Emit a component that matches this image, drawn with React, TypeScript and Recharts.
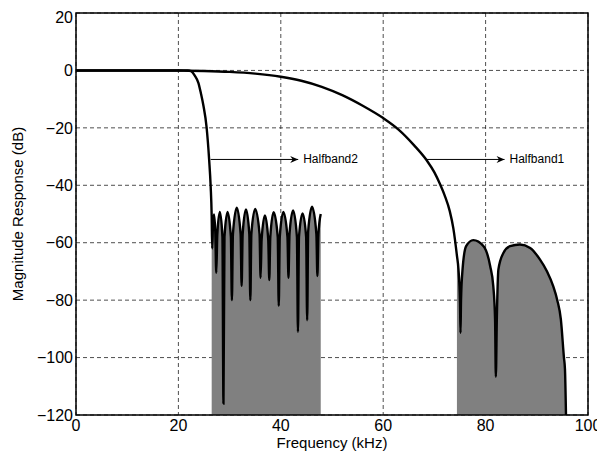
import { ComposedChart, Line, Area, XAxis, YAxis, CartesianGrid, ReferenceArea, ReferenceLine, ReferenceDot } from "recharts"

// frequency (kHz), magnitude (dB)
const hb1Passband: [number, number][] = [
  [0, 0], [10, 0], [18, 0], [20, -0.05], [22, -0.1], [25, -0.2], [30, -0.5], [35, -1.1],
  [40, -2.2], [44, -3.6], [48, -5.7], [52, -8.6], [56, -12.3], [60, -16.6], [63, -20.6],
  [66, -26], [68.5, -31.3], [70, -35.5], [71, -39.2], [72, -43.5], [73, -49], [73.7, -55],
]

const hb1Stopband: [number, number][] = [
  [74.4, -64.5], [74.7, -69.3], [75.0, -81], [75.1, -91.4], [75.2, -80], [75.5, -69.3],
  [76.2, -61.2], [77.6, -59.1], [79.6, -61.2], [80.9, -68.2], [81.5, -75.1], [81.85, -86.7],
  [82.0, -106.7], [82.2, -86], [82.5, -69.3], [83.5, -63.5], [84.8, -61.2], [86.7, -60.6],
  [88.7, -61.8], [90.6, -65.8], [92, -70], [93.2, -75.1], [94.0, -80], [94.7, -86.7],
  [95.3, -100], [95.5, -104], [95.7, -120],
]

const hb2Passband: [number, number][] = [
  [0, 0], [10, 0], [20, 0], [21.8, 0], [22.5, -0.3], [23.2, -1.8], [23.9, -4.3], [24.4, -8],
  [24.9, -12.4], [25.5, -19.7], [26.0, -31], [26.3, -40.3],
]

const hb2Stopband: [number, number][] = [
  [26.5, -50.7], [26.6, -62],
  [26.75, -54], [26.95, -50.2], [27.2, -56], [27.4, -70.5],
  [27.6, -57], [28.1, -49.3], [28.6, -58], [28.8, -116],
  [29.0, -58], [29.6, -49.3], [30.25, -58], [30.45, -80],
  [30.65, -57], [31.4, -47.8], [32.15, -57], [32.35, -75],
  [32.55, -57], [33.2, -48.4], [33.85, -57], [34.05, -80],
  [34.25, -57], [35.0, -48.2], [35.85, -57], [36.05, -72.2],
  [36.25, -59], [36.9, -50.5], [37.55, -59], [37.75, -73],
  [37.95, -58], [38.6, -49.4], [39.4, -58], [39.6, -82],
  [39.8, -58], [40.5, -49.3], [41.3, -58], [41.5, -72.2],
  [41.7, -57], [42.4, -48.8], [43.15, -58], [43.35, -91],
  [43.55, -58], [44.25, -49.8], [44.95, -58], [45.15, -87],
  [45.35, -56], [46.1, -47.5], [46.95, -57], [47.15, -71.6],
  [47.35, -57], [47.8, -50],
]

const xTicks = [0, 20, 40, 60, 80, 100]
const yTicks = [-120, -100, -80, -60, -40, -20, 0, 20]

// annotation arrows: [start kHz, end kHz, level dB, label]
const arrows: [number, number, number, string][] = [
  [26.3, 43.4, -31, "Halfband2"],
  [68.2, 83.7, -31, "Halfband1"],
]

const toPts = (arr: [number, number][]) => arr.map(([f, db]) => ({ f, db }))

const FONT = "'Liberation Sans', Arial, Helvetica, sans-serif"

const minus = (v: number) => String(v).replace("-", "\u2212")

export default function App() {
  const hb1 = toPts([...hb1Passband, ...hb1Stopband])
  const hb2 = toPts([...hb2Passband, ...hb2Stopband])

  return (
    <ComposedChart
      width={597}
      height={445}
      margin={{ top: 5, right: 17, bottom: 0, left: 0 }}
      style={{ fontFamily: FONT }}
    >
      <CartesianGrid stroke="#222" strokeDasharray="4 3" strokeWidth={0.8} />
      <XAxis
        type="number"
        dataKey="f"
        domain={[0, 100]}
        ticks={xTicks}
        height={38}
        tickLine={false}
        axisLine={false}
        tickSize={0}
        tickMargin={5}
        tick={{ fill: "#000", fontSize: 16 }}
        label={{ value: "Frequency (kHz)", position: "insideBottom", offset: 5, fill: "#000", fontSize: 15 }}
      />
      <YAxis
        type="number"
        domain={[-120, 20]}
        ticks={yTicks}
        width={68}
        tickLine={false}
        axisLine={false}
        tickSize={0}
        tickMargin={3}
        tickFormatter={minus}
        tick={{ fill: "#000", fontSize: 16 }}
        label={{ value: "Magnitude Response (dB)", angle: -90, position: "insideLeft", offset: 10, fill: "#000", fontSize: 15, style: { textAnchor: "middle" } }}
      />

      <Area data={toPts(hb2Stopband)} dataKey="db" type="monotone" baseValue={-120} fill="#808080" fillOpacity={1} stroke="none" isAnimationActive={false} />
      <Area data={toPts(hb1Stopband)} dataKey="db" type="monotone" baseValue={-120} fill="#808080" fillOpacity={1} stroke="none" isAnimationActive={false} />

      <Line data={hb1} dataKey="db" type="monotone" stroke="#000" strokeWidth={2.4} dot={false} isAnimationActive={false} />
      <Line data={hb2} dataKey="db" type="monotone" stroke="#000" strokeWidth={2.4} dot={false} isAnimationActive={false} />

      {arrows.map(([x1, x2, y, name]) => (
        <ReferenceLine key={`l-${name}`} segment={[{ x: x1, y }, { x: x2, y }]} stroke="#000" strokeWidth={1} />
      ))}
      {arrows.map(([, x2, y, name]) => (
        <ReferenceDot
          key={`d-${name}`}
          x={x2}
          y={y}
          r={0}
          shape={(p: any) => (
            <g>
              <path d={`M${p.cx},${p.cy} L${p.cx - 8},${p.cy - 3.5} L${p.cx - 5.5},${p.cy} L${p.cx - 8},${p.cy + 3.5} Z`} fill="#000" />
              <text x={p.cx + 5} y={p.cy} dominantBaseline="central" fontSize={12} fill="#000" fontFamily={FONT}>
                {name}
              </text>
            </g>
          )}
        />
      ))}

      <ReferenceArea x1={0} x2={100} y1={-120} y2={20} fill="none" stroke="#000" strokeWidth={1.5} fillOpacity={0} />
    </ComposedChart>
  )
}
